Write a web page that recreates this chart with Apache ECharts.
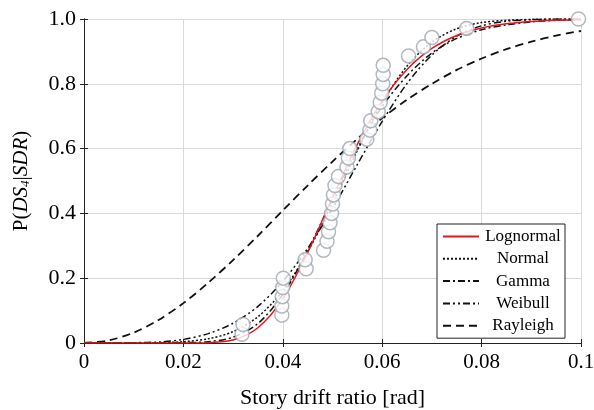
<!DOCTYPE html>
<html>
<head>
<meta charset="utf-8">
<script src="https://cdn.jsdelivr.net/npm/echarts@6/dist/echarts.min.js"></script>
<style>
  html, body { margin: 0; padding: 0; background: #fff; }
  #chart { width: 594px; height: 410px; }
</style>
</head>
<body>
<div id="chart"></div>
<script>
// observed fragility points (drift ratio, cumulative probability)
const obsDrift = [0.0318, 0.032, 0.0398, 0.0398, 0.0399, 0.04, 0.0401, 0.0447, 0.0445, 0.0482,
    0.0489, 0.0492, 0.0495, 0.0498, 0.05, 0.0502, 0.0505, 0.0512, 0.0529, 0.0532,
    0.0535, 0.0569, 0.0575, 0.0577, 0.0592, 0.0596, 0.0599, 0.0601, 0.0602, 0.0602,
    0.0653, 0.0683, 0.07, 0.077, 0.0995];
const obsProb = [0.027, 0.057, 0.086, 0.114, 0.143, 0.171, 0.2, 0.229, 0.257, 0.286,
    0.314, 0.343, 0.371, 0.4, 0.429, 0.457, 0.486, 0.514, 0.543, 0.571,
    0.6, 0.629, 0.657, 0.686, 0.714, 0.743, 0.771, 0.8, 0.829, 0.857,
    0.886, 0.914, 0.943, 0.971, 1.0];

const curveX = [0, 0.005, 0.01, 0.015, 0.02, 0.025, 0.03, 0.035, 0.04, 0.045, 0.05,
    0.055, 0.06, 0.065, 0.07, 0.075, 0.08, 0.085, 0.09, 0.095, 0.1];
const lognormal = [0, 0, 0, 0, 0, 0.001, 0.009, 0.047, 0.136, 0.279, 0.449,
    0.613, 0.747, 0.844, 0.909, 0.949, 0.972, 0.985, 0.992, 0.996, 0.998];
const normal = [0, 0, 0, 0.001, 0.004, 0.013, 0.035, 0.081, 0.161, 0.281, 0.432,
    0.594, 0.741, 0.855, 0.929, 0.970, 0.989, 0.996, 0.999, 1, 1];
const gamma = [0, 0, 0, 0, 0.001, 0.004, 0.018, 0.06, 0.15, 0.285, 0.445,
    0.6, 0.73, 0.825, 0.895, 0.94, 0.967, 0.982, 0.991, 0.996, 0.998];
const weibull = [0, 0, 0.001, 0.003, 0.011, 0.029, 0.061, 0.113, 0.19, 0.292, 0.415,
    0.551, 0.684, 0.801, 0.889, 0.947, 0.979, 0.993, 0.998, 1, 1];
const rayleigh = [0, 0.008, 0.032, 0.071, 0.123, 0.186, 0.256, 0.331, 0.409, 0.486, 0.56,
    0.63, 0.694, 0.751, 0.8, 0.843, 0.878, 0.907, 0.93, 0.949, 0.963];

const FONT = "'Liberation Serif', 'Times New Roman', serif";

const pairs = (xs, ys) => xs.map((x, i) => [x, ys[i]]);

const curve = (name, data, color, dash, width) => ({
    name: name,
    type: 'line',
    data: pairs(curveX, data),
    smooth: 0.3,
    symbol: 'none',
    lineStyle: { color: color, width: width, type: dash },
    itemStyle: { color: color },
    z: 2
});

const frameAxis = {
    show: true,
    axisLine: { show: true, lineStyle: { color: '#222', width: 1 } },
    axisTick: { show: true, inside: true, length: 4, lineStyle: { color: '#222' } },
    axisLabel: { show: false },
    splitLine: { show: false }
};

const option = {
    animation: false,
    backgroundColor: '#fff',
    textStyle: { fontFamily: FONT },
    grid: { left: 84, right: 13, top: 19, bottom: 67, containLabel: false, outerBoundsMode: 'none' },
    legend: {
        orient: 'vertical',
        left: 437,
        top: 224,
        padding: [4, 3, 4, 5],
        itemGap: 5.3,
        itemWidth: 36,
        itemHeight: 14,
        borderColor: '#222',
        borderWidth: 1,
        backgroundColor: '#fff',
        itemStyle: { opacity: 0 },
        data: ['Lognormal', 'Normal', 'Gamma', 'Weibull', 'Rayleigh'],
        formatter: '{t|{name}}',
        textStyle: {
            fontFamily: FONT,
            fontSize: 17,
            color: '#000',
            rich: { t: { width: 78, height: 14, lineHeight: 14, align: 'center', fontFamily: FONT, fontSize: 17, color: '#000' } }
        }
    },
    xAxis: [
        {
            type: 'value', min: 0, max: 0.1, interval: 0.02,
            name: 'Story drift ratio [rad]',
            nameLocation: 'middle',
            nameGap: 44,
            nameTextStyle: { fontFamily: FONT, fontSize: 22, color: '#000' },
            axisLine: { show: true, lineStyle: { color: '#222', width: 1 } },
            axisTick: { show: true, inside: true, length: 4, lineStyle: { color: '#222' } },
            axisLabel: {
                fontFamily: FONT, fontSize: 21, color: '#000', margin: 9,
                formatter: v => String(+v.toFixed(2))
            },
            splitLine: { show: true, lineStyle: { color: '#d9d9d9', width: 1 } }
        },
        Object.assign({ type: 'value', min: 0, max: 0.1, interval: 0.02, position: 'top' }, frameAxis)
    ],
    yAxis: [
        {
            type: 'value', min: 0, max: 1, interval: 0.2,
            name: '{n|P(}{i|DS}{s|4}{n||}{i|SDR}{n|)}',
            nameLocation: 'middle',
            nameGap: 52,
            nameTextStyle: {
                fontFamily: FONT, fontSize: 21, color: '#000',
                rich: {
                    n: { fontFamily: FONT, fontSize: 21, color: '#000' },
                    i: { fontFamily: FONT, fontSize: 21, fontStyle: 'italic', color: '#000' },
                    s: { fontFamily: FONT, fontSize: 13, fontStyle: 'italic', color: '#000',
                         verticalAlign: 'bottom', padding: [8, 0, 0, 0] }
                }
            },
            axisLine: { show: true, lineStyle: { color: '#222', width: 1 } },
            axisTick: { show: true, inside: true, length: 4, lineStyle: { color: '#222' } },
            axisLabel: {
                fontFamily: FONT, fontSize: 22, color: '#000', margin: 8,
                formatter: v => (v === 0 ? '0' : v.toFixed(1))
            },
            splitLine: { show: true, lineStyle: { color: '#d9d9d9', width: 1 } }
        },
        Object.assign({ type: 'value', min: 0, max: 1, interval: 0.2, position: 'right' }, frameAxis)
    ],
    series: [
        curve('Rayleigh', rayleigh, '#111', [8, 5], 1.8),
        curve('Weibull', weibull, '#111', [7, 3, 2, 3, 2, 3], 1.5),
        curve('Gamma', gamma, '#111', [7, 3, 2, 3], 1.5),
        curve('Normal', normal, '#111', [2, 2], 1.5),
        curve('Lognormal', lognormal, '#e8141b', 'solid', 1.5),
        {
            name: 'Observed',
            type: 'scatter',
            data: pairs(obsDrift, obsProb),
            symbol: 'circle',
            symbolSize: 14,
            itemStyle: { color: '#ffffff', borderColor: '#9ea8b0', borderWidth: 1.5 },
            z: 3
        }
    ]
};

const chart = echarts.init(document.getElementById('chart'), null, { renderer: 'canvas' });
chart.setOption(option);
</script>
</body>
</html>
